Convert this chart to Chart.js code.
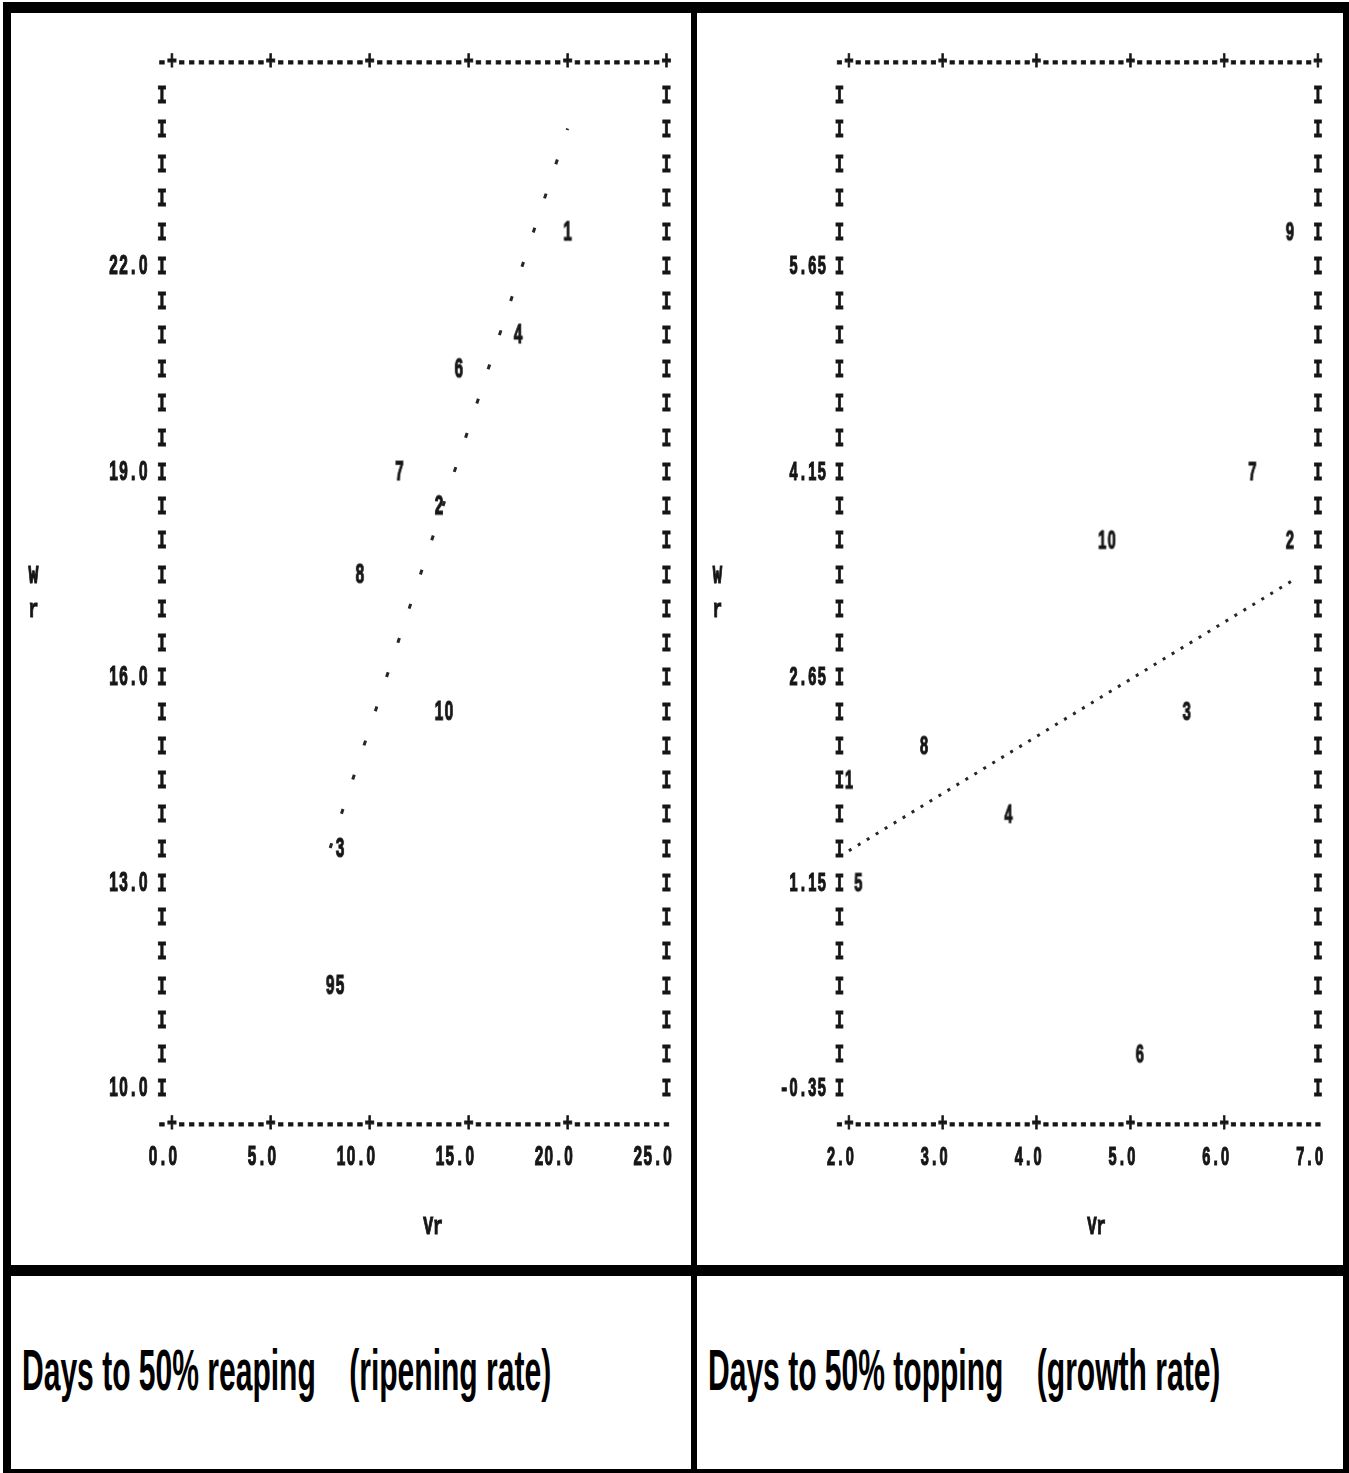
<!DOCTYPE html>
<html>
<head>
<meta charset="utf-8">
<script src="https://cdn.jsdelivr.net/npm/chart.js@4/dist/chart.umd.min.js"></script>
<style>
html,body{margin:0;padding:0;background:#fff;}
#page{position:relative;width:1349px;height:1473px;overflow:hidden;background:#fff;}
.b{position:absolute;background:#000;}
canvas{position:absolute;}
.title{position:absolute;top:1342px;font-family:'Liberation Sans',Arial,sans-serif;font-weight:bold;font-size:57px;line-height:57px;white-space:pre;transform:scaleX(0.527);transform-origin:0 0;color:#000;}
</style>
</head>
<body>
<div id="page">
  <canvas id="c1" width="680" height="1252" style="left:11px;top:13px;width:680px;height:1252px"></canvas>
  <canvas id="c2" width="646" height="1252" style="left:697px;top:13px;width:646px;height:1252px"></canvas>
  <div class="b" style="left:3px;top:2px;width:1346px;height:11px"></div>
  <div class="b" style="left:3px;top:2px;width:8px;height:1471px"></div>
  <div class="b" style="left:1343px;top:2px;width:6px;height:1471px"></div>
  <div class="b" style="left:3px;top:1469px;width:1346px;height:4px"></div>
  <div class="b" style="left:691px;top:2px;width:6px;height:1471px"></div>
  <div class="b" style="left:3px;top:1265px;width:1346px;height:11px"></div>
  <div class="title" style="left:22px">Days to 50% reaping    (ripening rate)</div>
  <div class="title" style="left:708px">Days to 50% topping    (growth rate)</div>
</div>
<script>
// ---------- data ----------
const genotypes = ['1','2','3','4','5','6','7','8','9','10'];

const ripeningVr = [20.0, 13.5, 8.5, 17.5, 8.5, 14.5, 11.5, 9.5, 8.0, 13.75];
const ripeningWr = [22.5, 18.5, 13.5, 21.0, 11.5, 20.5, 19.0, 17.5, 11.5, 15.5];
const ripeningLineVr = [8.0, 20.0];
const ripeningLineWr = [13.5, 24.0];
const ripeningXTicks = [0, 5, 10, 15, 20, 25];
const ripeningXTickLabels = ['0.0', '5.0', '10.0', '15.0', '20.0', '25.0'];
const ripeningYTicks = [10, 13, 16, 19, 22];
const ripeningYTickLabels = ['10.0', '13.0', '16.0', '19.0', '22.0'];

const growthVr = [2.0, 6.7, 5.6, 3.7, 2.1, 5.1, 6.3, 2.8, 6.7, 4.75];
const growthWr = [1.9, 3.65, 2.4, 1.65, 1.15, -0.1, 4.15, 2.15, 5.9, 3.65];
const growthLineVr = [2.0, 6.75];
const growthLineWr = [1.38, 3.36];
const growthXTicks = [2, 3, 4, 5, 6, 7];
const growthXTickLabels = ['2.0', '3.0', '4.0', '5.0', '6.0', '7.0'];
const growthYTicks = [-0.35, 1.15, 2.65, 4.15, 5.65];
const growthYTickLabels = ['-0.35', '1.15', '2.65', '4.15', '5.65'];

const xAxisTitle = 'Vr';
const yAxisTitle = ['W', 'r'];

// ---------- helpers ----------
const INK = '#161616';
const DIGIT_H = 17.5;
const STROKE = 0.7;

function makeFonts(cw) {
  const m = document.createElement('canvas').getContext('2d');
  const mk = (font) => {
    m.font = font;
    const asc = m.measureText('0').actualBoundingBoxAscent;
    return { font: font, sy: DIGIT_H / asc, base: asc / 2 };
  };
  return {
    cw: cw,
    mono: mk('bold ' + (cw / 0.6).toFixed(2) + 'px "Liberation Mono", "DejaVu Sans Mono", monospace'),
    dig: mk('bold ' + (cw * 1.55).toFixed(2) + 'px "Liberation Sans", Arial, sans-serif')
  };
}

function drawPrinter(ctx, s, x, y, align, P) {
  const n = s.length;
  let c0;
  if (align === 'center') c0 = x - (n - 1) * P.cw / 2;
  else if (align === 'right') c0 = x - (n - 0.5) * P.cw;
  else c0 = x + 0.5 * P.cw;
  for (let i = 0; i < n; i++) {
    const ch = s[i];
    const f = /[0-9]/.test(ch) ? P.dig : P.mono;
    ctx.save();
    ctx.font = f.font;
    ctx.textAlign = 'center';
    ctx.textBaseline = 'alphabetic';
    ctx.fillStyle = INK;
    ctx.strokeStyle = INK;
    ctx.lineWidth = STROKE;
    ctx.translate(c0 + i * P.cw, y);
    ctx.scale(1, f.sy);
    ctx.fillText(ch, 0, f.base);
    ctx.strokeText(ch, 0, f.base);
    ctx.restore();
  }
}

function makeGlyph(text, P) {
  const c = document.createElement('canvas');
  c.width = Math.ceil(text.length * P.cw) + 6;
  c.height = Math.ceil(DIGIT_H) + 12;
  drawPrinter(c.getContext('2d'), text, c.width / 2, c.height / 2, 'center', P);
  return c;
}

const printerPlugin = {
  id: 'printer',
  beforeDatasetsDraw(chart) {
    const p = chart.options.plugins.printer;
    const P = p.P;
    const ctx = chart.ctx;
    const xs = chart.scales.x, ys = chart.scales.y;
    const cw = P.cw;
    const cols = Math.round((xs.max - xs.min) / p.charStep);
    const yTop = ys.getPixelForValue(ys.max);
    const yBot = ys.getPixelForValue(ys.min);
    const lastTick = p.xTicks[p.xTicks.length - 1];
    const isTick = v => p.xTicks.some(t => Math.abs(t - v) < p.charStep / 2);
    for (let i = 0; i <= cols; i++) {
      const v = xs.min + i * p.charStep;
      const px = xs.getPixelForValue(v);
      const tick = isTick(v);
      drawPrinter(ctx, tick ? '+' : '-', px, yTop, 'center', P);
      const endTick = Math.abs(v - lastTick) < p.charStep / 2;
      drawPrinter(ctx, (tick && !endTick) ? '+' : '-', px, yBot, 'center', P);
    }
    const rows = Math.round((ys.max - ys.min) / p.rowStep);
    const xL = xs.getPixelForValue(xs.min);
    const xR = xs.getPixelForValue(xs.max);
    for (let k = 1; k < rows; k++) {
      const py = ys.getPixelForValue(ys.max - k * p.rowStep);
      drawPrinter(ctx, 'I', xL, py, 'center', P);
      drawPrinter(ctx, 'I', xR, py, 'center', P);
    }
    p.yTicks.forEach((t, i) => {
      drawPrinter(ctx, p.yLabels[i], xL - 1.4 * cw, ys.getPixelForValue(t), 'right', P);
    });
    const yLab = ys.getPixelForValue(ys.min - p.rowStep);
    p.xTicks.forEach((t, i) => {
      drawPrinter(ctx, p.xLabels[i], xs.getPixelForValue(t) + 0.6 * cw, yLab, 'right', P);
    });
    const xW = xs.getPixelForValue(xs.min - 13 * p.charStep);
    yAxisTitle.forEach((s, i) => {
      drawPrinter(ctx, s, xW, ys.getPixelForValue(ys.max - (15 + i) * p.rowStep), 'center', P);
    });
    drawPrinter(ctx, xAxisTitle, xs.getPixelForValue(xs.min + 27.4 * p.charStep),
                ys.getPixelForValue(ys.min - 3 * p.rowStep), 'center', P);
  }
};

function makePanel(id, cfg) {
  const canvas = document.getElementById(id);
  const W = canvas.width;
  const pad = cfg.pad;
  const cols = Math.round((cfg.xMax - cfg.xMin) / cfg.charStep);
  const P = makeFonts((W - pad.left - pad.right) / cols);
  const glyphs = genotypes.map(t => makeGlyph(t, P));

  return new Chart(canvas, {
    type: 'scatter',
    data: {
      datasets: [
        {
          label: 'genotypes',
          data: cfg.vr.map((v, i) => ({ x: v, y: cfg.wr[i] })),
          pointStyle: glyphs,
          pointRadius: 5,
          clip: false,
          showLine: false
        },
        {
          type: 'line',
          label: 'regression',
          data: cfg.lineVr.map((v, i) => ({ x: v, y: cfg.lineWr[i] })),
          borderColor: '#262626',
          borderWidth: cfg.dashWidth,
          borderDash: cfg.dash,
          pointRadius: 0,
          fill: false,
          clip: false,
          showLine: true
        }
      ]
    },
    options: {
      responsive: false,
      animation: false,
      devicePixelRatio: 1,
      events: [],
      layout: { padding: pad },
      scales: {
        x: { type: 'linear', min: cfg.xMin, max: cfg.xMax, display: false },
        y: { type: 'linear', min: cfg.yMin, max: cfg.yMax, display: false }
      },
      plugins: {
        legend: { display: false },
        tooltip: { enabled: false },
        printer: {
          charStep: cfg.charStep, rowStep: cfg.rowStep,
          xTicks: cfg.xTicks, xLabels: cfg.xLabels,
          yTicks: cfg.yTicks, yLabels: cfg.yLabels,
          P: P
        }
      }
    },
    plugins: [printerPlugin]
  });
}

makePanel('c1', {
  vr: ripeningVr, wr: ripeningWr,
  lineVr: ripeningLineVr, lineWr: ripeningLineWr,
  xTicks: ripeningXTicks, xLabels: ripeningXTickLabels,
  yTicks: ripeningYTicks, yLabels: ripeningYTickLabels,
  xMin: -0.5, xMax: 25, yMin: 9.5, yMax: 25,
  charStep: 0.5, rowStep: 0.5,
  pad: { left: 151, right: 24.5, top: 47, bottom: 143 },
  dash: [5, 31], dashWidth: 3
});

makePanel('c2', {
  vr: growthVr, wr: growthWr,
  lineVr: growthLineVr, lineWr: growthLineWr,
  xTicks: growthXTicks, xLabels: growthXTickLabels,
  yTicks: growthYTicks, yLabels: growthYTickLabels,
  xMin: 1.9, xMax: 7.0, yMin: -0.6, yMax: 7.15,
  charStep: 0.1, rowStep: 0.25,
  pad: { left: 142.5, right: 25, top: 47, bottom: 143 },
  dash: [3, 7.5], dashWidth: 3
});
</script>
</body>
</html>
